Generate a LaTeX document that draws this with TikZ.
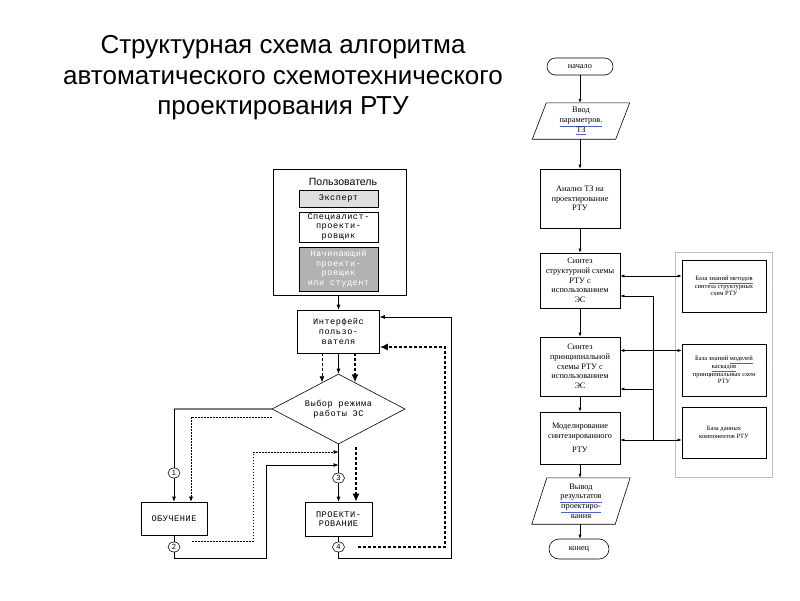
\documentclass[tikz,border=0pt]{standalone}
\usepackage{fontspec}
\setmainfont{Liberation Serif}
\newfontfamily\titlefont{Liberation Sans}
\newfontfamily\monofont[LetterSpace=6]{Liberation Mono}
\usetikzlibrary{shapes.geometric,arrows.meta,calc}
\definecolor{ulblue}{RGB}{70,100,200}
\newcommand\bul[1]{{\color{ulblue}\underline{\color{black}#1}}}
\begin{document}
\begin{tikzpicture}[x=1pt,y=-1pt,
  lbox/.style={draw, line width=0.6pt, inner sep=0pt, align=center, font=\monofont\fontsize{8.6}{9.6}\selectfont},
  rbox/.style={draw, line width=0.6pt, inner sep=0pt, align=center, font=\fontsize{8.3}{9.7}\selectfont},
  pbox/.style={inner sep=0pt, align=center, font=\fontsize{8.3}{9.7}\selectfont},
  kbox/.style={draw, line width=0.6pt, inner sep=0pt, align=center, font=\fontsize{6.5}{7.6}\selectfont},
  num/.style={draw, ellipse, line width=0.6pt, minimum width=12pt, minimum height=10pt, inner sep=0pt, font=\titlefont\fontsize{7.5}{7.5}\selectfont},
  conn/.style={line width=0.6pt},
  arr/.style={conn, -{Latex[length=5pt,width=4pt]}},
  darr/.style={line width=0.7pt, dash pattern=on 3pt off 2pt, -{Latex[length=6pt,width=5pt]}},
  bdarr/.style={line width=1.4pt, dash pattern=on 3pt off 2pt, -{Latex[length=8pt,width=7pt]}},
  dotarr/.style={line width=0.6pt, dash pattern=on 1.5pt off 1.5pt, -{Latex[length=5pt,width=4pt]}},
  rarr/.style={line width=0.5pt, -{Latex[length=4pt,width=3pt]}},
  rbiarr/.style={line width=0.5pt, {Latex[length=4pt,width=3pt]}-{Latex[length=4pt,width=3pt]}},
]
\useasboundingbox (0,0) rectangle (800,600);

% title
\node[font=\titlefont\fontsize{26}{30.5}\selectfont, align=center] (title) at (283,78)
  {Структурная схема алгоритма\\автоматического схемотехнического\\проектирования РТУ};

% ---------- left diagram ----------
\node[draw, line width=0.6pt, minimum width=133pt, minimum height=126pt, inner sep=0pt] (user) at (339.5,232) {};
\node[font=\titlefont\fontsize{10.5}{12}\selectfont] (usert) at (343,182) {Пользователь};
\node[lbox, fill=gray!25, minimum width=79pt, minimum height=17pt] (expert) at (338.5,198.5) {Эксперт};
\node[lbox, minimum width=79pt, minimum height=30pt] (spec) at (338.5,227) {Специалист-\\проекти-\\ровщик};
\node[lbox, fill=gray!60, text=white, minimum width=79pt, minimum height=44pt] (novice) at (338.5,269) {Начинающий\\проекти-\\ровщик\\или студент};

\node[lbox, minimum width=82pt, minimum height=43pt] (iface) at (338.5,331.5) {Интерфейс\\пользо-\\вателя};
\node[draw, diamond, aspect=2, line width=0.6pt, minimum width=133pt, minimum height=70pt, inner sep=0pt, align=center,
      font=\monofont\fontsize{8.6}{9.6}\selectfont] (mode) at (338.5,409) {Выбор режима\\работы ЭС};

\node[lbox, minimum width=66pt, minimum height=33pt] (learn) at (174,518.5) {ОБУЧЕНИЕ};
\node[lbox, minimum width=67pt, minimum height=34pt] (design) at (338.5,519) {ПРОЕКТИ-\\РОВАНИЕ};

\node[num, fill=white] (n1) at (174,473) {1};
\node[num, fill=white] (n2) at (174,547) {2};
\node[num, fill=white] (n3) at (338.5,478) {3};
\node[num, fill=white] (n4) at (338.5,547) {4};

\coordinate (j1) at (338.5,465);
\coordinate (j2) at (338.5,452);
\coordinate (b2) at (266,558);
\coordinate (d2s) at (192,541);
\coordinate (d2t) at (253,452);
\coordinate (d3s) at (356,447);
\coordinate (d4s) at (358,547);
\coordinate (b4) at (451,558);

\draw[arr] (iface.north |- user.south) -- (iface.north);
\draw[arr] (iface.south) -- (mode.north);
\draw[darr] ([xshift=-16.5pt]iface.south) -- ++(0,29);
\draw[bdarr] ([xshift=16.5pt]iface.south) -- ++(0,29);

\draw[gray, line width=1.3pt] (mode.west) -- (mode.west -| n1);
\draw[conn] (mode.west -| n1) -- (n1.north);
\draw[arr] (n1.south) -- (n1.south |- learn.north);
\draw[dotarr] ([yshift=-8pt]mode.west) -| ([xshift=17pt]learn.north);

\draw[conn] (learn.south) -- (n2.north);
\draw[arr] (n2.south) |- (b2) |- (j1);
\draw[dotarr] (d2s) -| (d2t) -- (j2);

\draw[conn] (mode.south) -- (n3.north);
\draw[arr] (n3.south) -- (design.north);
\draw[bdarr] (d3s) -- (d3s |- design.north);

\draw[conn] (design.south) -- (n4.north);
\draw[arr] (n4.south) |- (b4) |- ([yshift=14.5pt]iface.east);
\draw[bdarr] (d4s) -| ([xshift=65pt,yshift=-15.5pt]iface.east) -- ([yshift=-15.5pt]iface.east);

% ---------- right flowchart ----------
\node[rbox, rounded corners=8.5pt, minimum width=66pt, minimum height=17pt] (start) at (580,66.5) {начало};
\node[pbox, minimum width=83pt, minimum height=36pt] (inp) at (581,121) {Ввод\\\bul{параметров.}\\\bul{ТЗ}};
\draw[line width=0.6pt] ([xshift=7pt]inp.north west) -- ([xshift=7pt]inp.north east) -- ([xshift=-7pt]inp.south east) -- ([xshift=-7pt]inp.south west) -- cycle;
\node[rbox, minimum width=80pt, minimum height=59pt] (anal) at (580,198.5) {Анализ ТЗ на\\проектирование\\РТУ};
\node[rbox, minimum width=80pt, minimum height=55pt] (syn1) at (580,280.5) {Синтез\\структурной схемы\\РТУ с\\использованием\\ЭС};
\node[rbox, minimum width=80pt, minimum height=59pt] (syn2) at (580,366.5) {Синтез\\принципиальной\\схемы РТУ с\\использованием\\ЭС};
\node[rbox, minimum width=80pt, minimum height=52pt] (model) at (580,438) {Моделирование\\синтезированного\\[4pt]РТУ};
\node[pbox, minimum width=83pt, minimum height=46pt] (outp) at (581,501) {Вывод\\\bul{результатов}\\\bul{проектиро-}\\вания};
\draw[line width=0.6pt] ([xshift=7.5pt]outp.north west) -- ([xshift=7.5pt]outp.north east) -- ([xshift=-7.5pt]outp.south east) -- ([xshift=-7.5pt]outp.south west) -- cycle;
\node[rbox, rounded corners=10pt, minimum width=60pt, minimum height=20pt] (fin) at (579,549) {конец};

\draw[rarr] (start.south) -- (start.south |- inp.north);
\draw[rarr] (anal.north |- inp.south) -- (anal.north);
\draw[rarr] (anal.south) -- (syn1.north);
\draw[rarr] (syn1.south) -- (syn2.north);
\draw[rarr] (syn2.south) -- (model.north);
\draw[rarr] (model.south) -- (model.south |- outp.north);
\draw[rarr] (model.south |- outp.south) -- (model.south |- fin.north);

% knowledge bases
\node[draw=gray!50, line width=0.8pt, minimum width=97pt, minimum height=225pt, inner sep=0pt] (panel) at (723.5,364.5) {};
\node[kbox, minimum width=84pt, minimum height=52pt] (kb1) at (724,286) {База \bul{знаний методов}\\синтеза структурных\\схем РТУ};
\node[kbox, minimum width=84pt, minimum height=52pt] (kb2) at (724,370) {База знаний \bul{моделей}\\\bul{каскадов}\\принципиальных схем\\РТУ};
\node[kbox, minimum width=84pt, minimum height=51pt] (kb3) at (724,432.5) {База данных\\компонентов РТУ};

\coordinate (a1) at ([yshift=4.5pt]syn1.east);
\coordinate (a2) at ([yshift=16pt]syn2.east);
\coordinate (a3) at ([yshift=-2pt]model.east);
\draw[rbiarr] (a1) -- (a1 -| kb1.west);
\draw[rbiarr] (a2) -- (a2 -| kb2.west);
\draw[rbiarr] (a3) -- (a3 -| kb3.west);

\coordinate (fb) at (653,440);
\coordinate (f1) at ([yshift=-15.5pt]syn1.east);
\coordinate (f2) at ([yshift=-22.5pt]syn2.east);
\draw[rarr] (fb) |- (f1);
\draw[rarr] (f2 -| fb) -- (f2);
\end{tikzpicture}
\end{document}
